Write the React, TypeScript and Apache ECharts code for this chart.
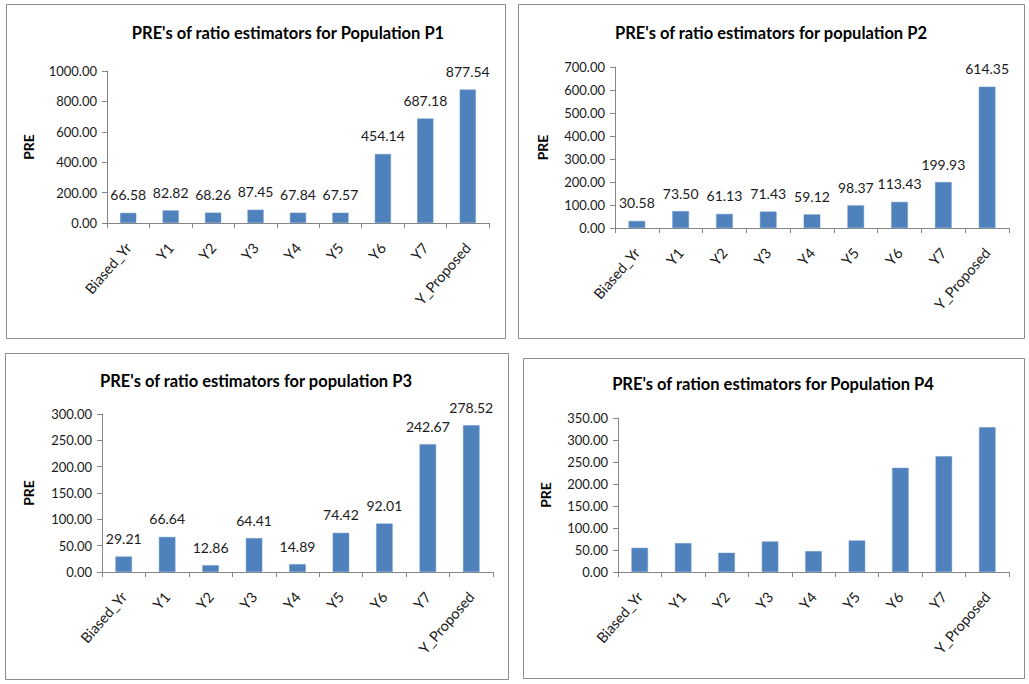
import React, { useEffect, useRef } from "react";
import * as echarts from "echarts";

const categories = ["Biased_Yr", "Y1", "Y2", "Y3", "Y4", "Y5", "Y6", "Y7", "Y_Proposed"];
const p1Values = [66.58, 82.82, 68.26, 87.45, 67.84, 67.57, 454.14, 687.18, 877.54];
const p2Values = [30.58, 73.5, 61.13, 71.43, 59.12, 98.37, 113.43, 199.93, 614.35];
const p3Values = [29.21, 66.64, 12.86, 64.41, 14.89, 74.42, 92.01, 242.67, 278.52];
const p4Values = [55, 65.6, 43.7, 69.4, 47.5, 71.6, 236.8, 263.2, 328.8];

const titles = [
  "PRE's of ratio estimators for Population P1",
  "PRE's of ratio estimators for population P2",
  "PRE's of ratio estimators for population P3",
  "PRE's of ration estimators for Population P4",
];
const axisMax = [1000, 700, 300, 350];
const axisInterval = [200, 100, 50, 50];
const showLabels = [true, true, true, false];
const seriesData = [p1Values, p2Values, p3Values, p4Values];

const FONT = "Lato";
const AXIS_COLOR = "#868686";
const BAR_COLOR = "#4F81BD";
const TEXT_COLOR = "#1a1a1a";

const panels = [
  { box: [6, 4, 499, 334], grid: [107, 71, 382, 152], title: [288, 33], nameGap: 72 },
  { box: [518, 4, 506, 334], grid: [615, 67, 394, 161], title: [771, 33], nameGap: 66 },
  { box: [5, 353, 503, 326], grid: [102, 414, 391, 158], title: [256, 381], nameGap: 67 },
  { box: [523, 358, 501, 320], grid: [618, 418, 391, 154], title: [773, 384], nameGap: 66 },
];

export default function App() {
  const ref = useRef<HTMLDivElement>(null);
  useEffect(() => {
    if (!ref.current) return;
    const chart = echarts.init(ref.current, undefined, { renderer: "svg" });
    const grid: any[] = [];
    const xAxis: any[] = [];
    const yAxis: any[] = [];
    const series: any[] = [];
    const graphic: any[] = [];
    panels.forEach((p, i) => {
      graphic.push({
        type: "rect",
        shape: { x: p.box[0] + 0.5, y: p.box[1] + 0.5, width: p.box[2], height: p.box[3] },
        style: { fill: "#fff", stroke: "#8c8c8c", lineWidth: 1 },
        z: -10,
      });
      graphic.push({
        type: "text",
        x: p.title[0],
        y: p.title[1],
        style: {
          text: titles[i],
          fontFamily: FONT,
          fontSize: 16.5,
          fontWeight: "bold",
          fill: "#000",
          textAlign: "center",
          textVerticalAlign: "middle",
        },
      });
      grid.push({ left: p.grid[0], top: p.grid[1], width: p.grid[2], height: p.grid[3], containLabel: false });
      xAxis.push({
        type: "category",
        gridIndex: i,
        data: categories,
        boundaryGap: true,
        axisLine: { show: true, lineStyle: { color: AXIS_COLOR, width: 1 } },
        axisTick: { show: true, alignWithLabel: false, length: 5, lineStyle: { color: AXIS_COLOR } },
        axisLabel: {
          rotate: 49,
          interval: 0,
          margin: 22,
          fontFamily: FONT,
          fontSize: 14.5,
          color: TEXT_COLOR,
        },
        splitLine: { show: false },
      });
      yAxis.push({
        type: "value",
        gridIndex: i,
        min: 0,
        max: axisMax[i],
        interval: axisInterval[i],
        name: "PRE",
        nameLocation: "middle",
        nameRotate: 90,
        nameGap: p.nameGap,
        nameTextStyle: { fontFamily: FONT, fontSize: 14, fontWeight: "bold", color: "#000" },
        axisLine: { show: true, lineStyle: { color: AXIS_COLOR, width: 1 } },
        axisTick: { show: true, inside: false, length: 5, lineStyle: { color: AXIS_COLOR } },
        axisLabel: {
          formatter: (v: number) => v.toFixed(2),
          fontFamily: FONT,
          fontSize: 13,
          color: TEXT_COLOR,
          margin: 10,
        },
        splitLine: { show: false },
      });
      series.push({
        type: "bar",
        xAxisIndex: i,
        yAxisIndex: i,
        data: seriesData[i],
        barWidth: "38%",
        itemStyle: { color: BAR_COLOR, borderColor: "#6b96c9", borderWidth: 0.5 },
        label: {
          show: showLabels[i],
          position: "top",
          distance: 11,
          formatter: (d: any) => Number(d.value).toFixed(2),
          fontFamily: FONT,
          fontSize: 14,
          color: TEXT_COLOR,
        },
      });
    });
    chart.setOption({
      animation: false,
      backgroundColor: "#fff",
      grid,
      xAxis,
      yAxis,
      series,
      graphic,
    });
    return () => chart.dispose();
  }, []);
  return (
    <div
      ref={ref}
      style={{ position: "absolute", left: 0, top: 0, width: 1029, height: 684, background: "#fff" }}
    />
  );
}
